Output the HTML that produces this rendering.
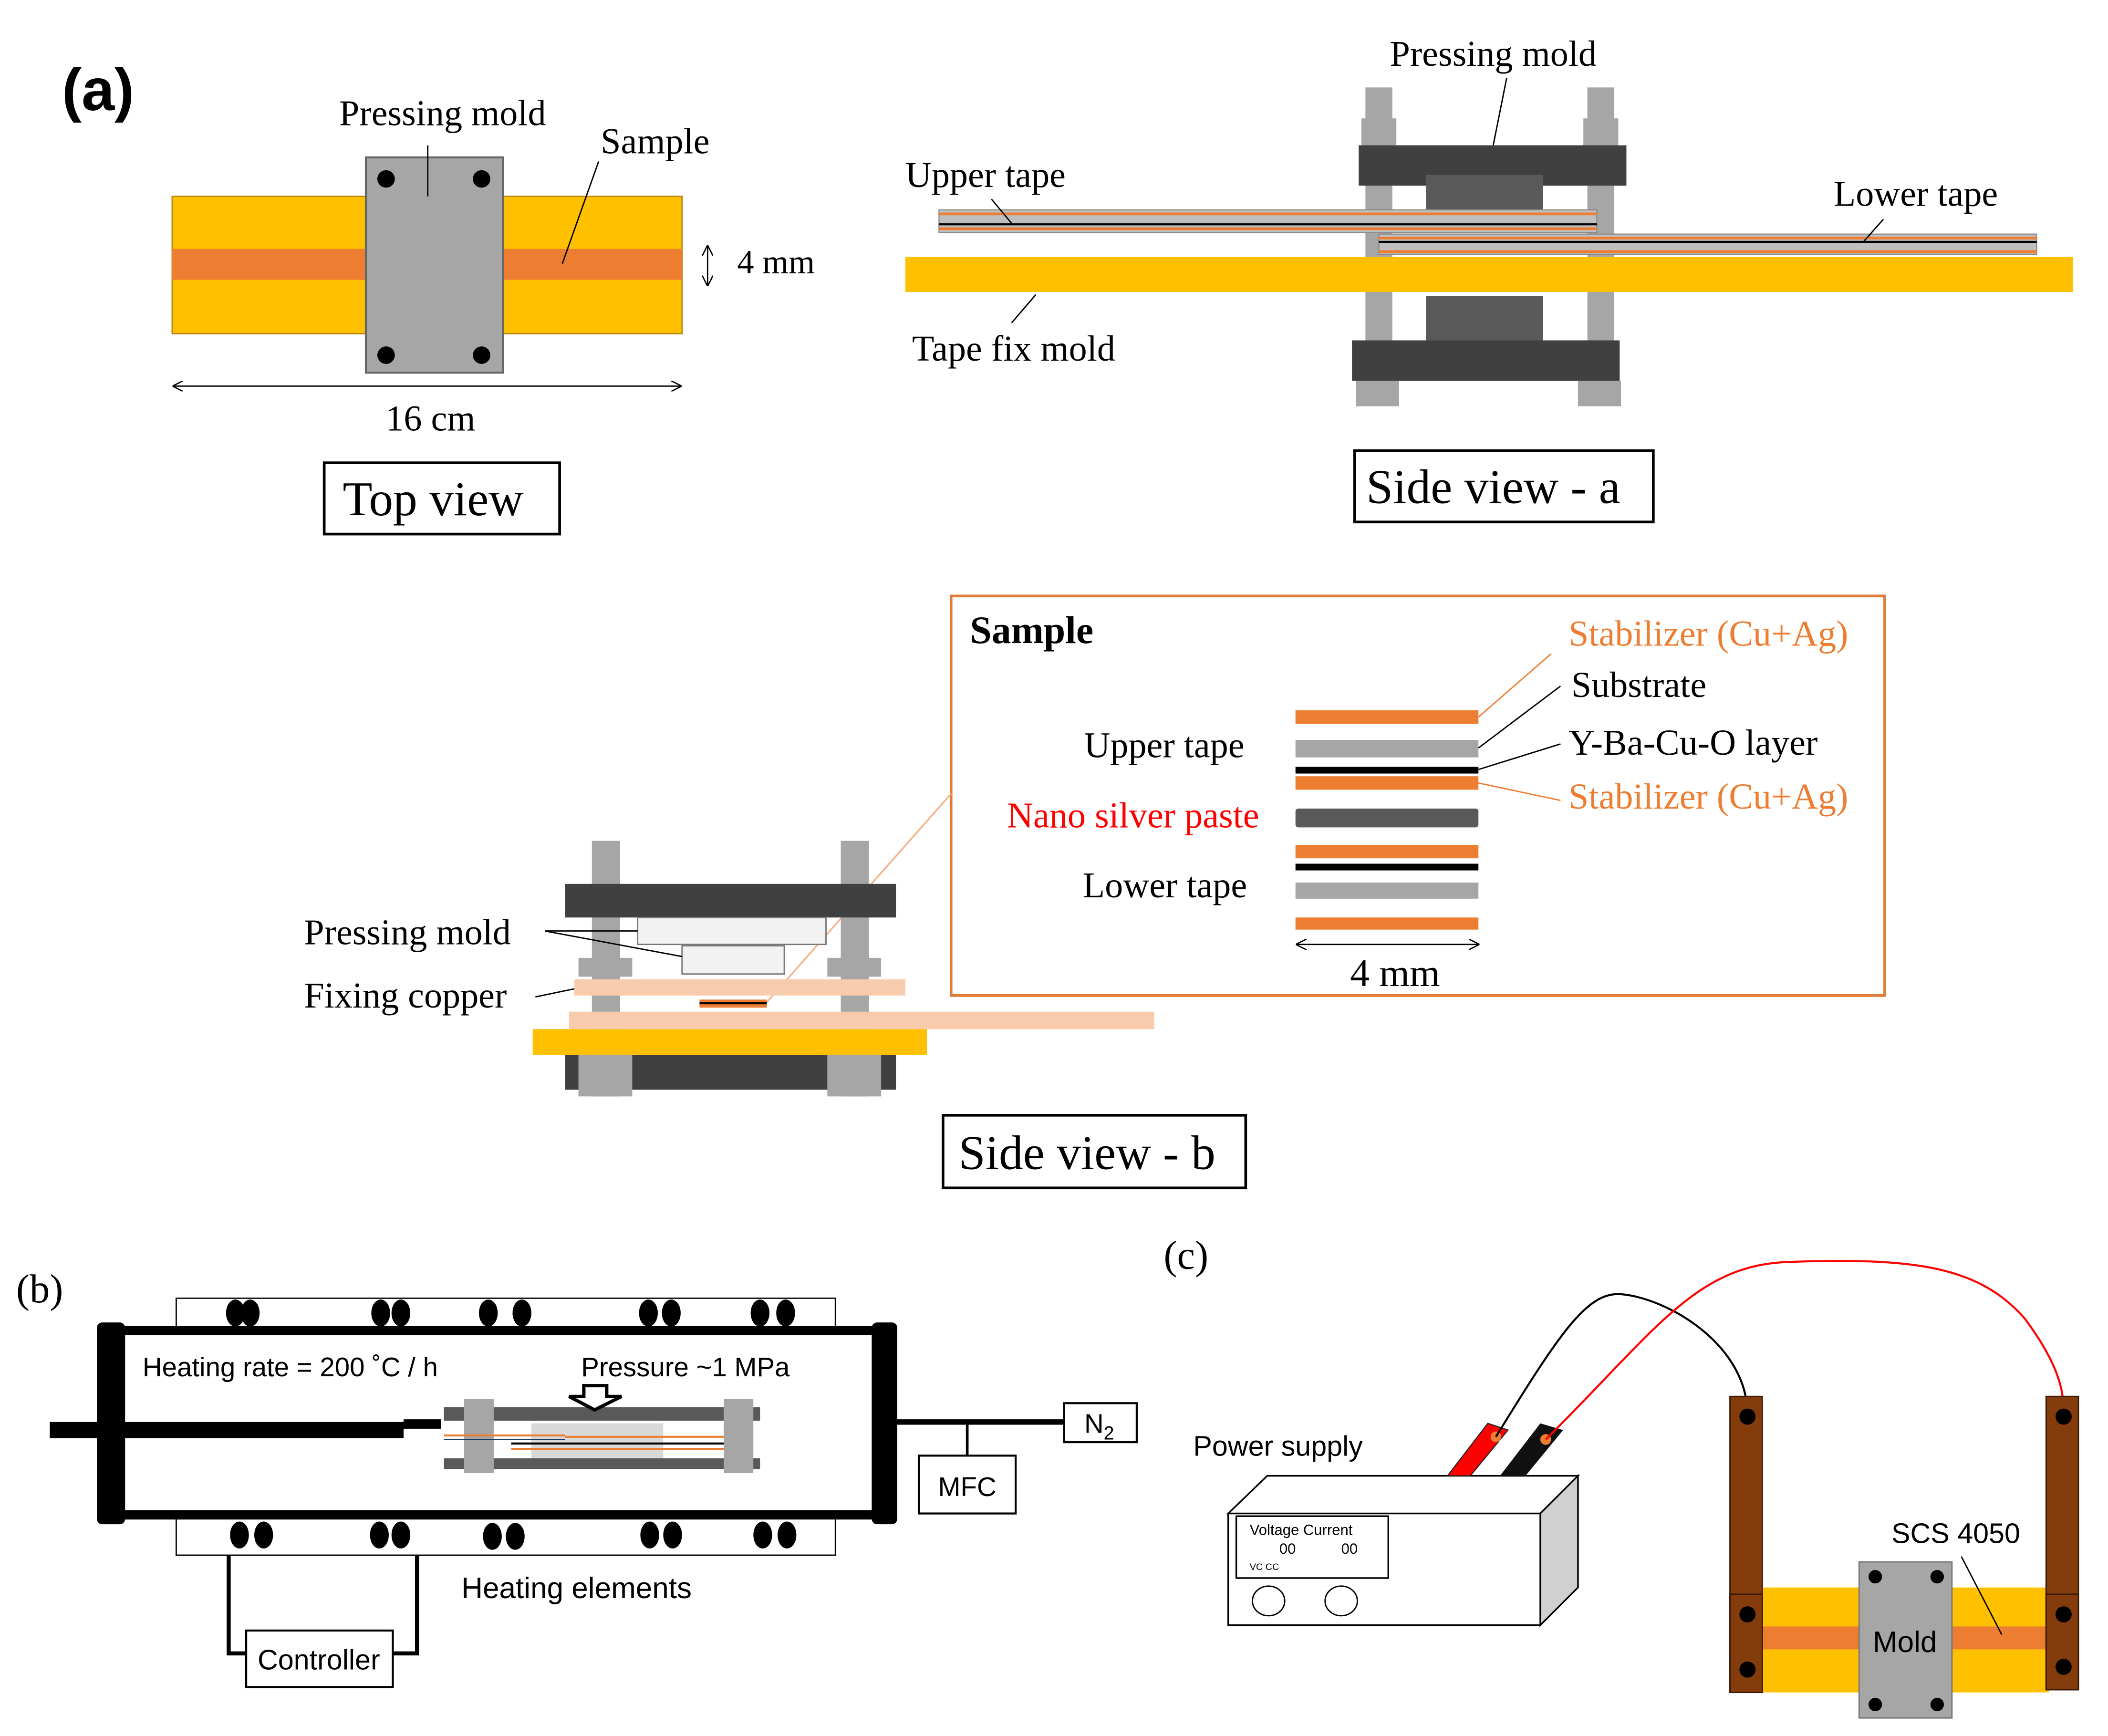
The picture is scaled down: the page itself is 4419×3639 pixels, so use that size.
<!DOCTYPE html>
<html><head><meta charset="utf-8"><style>html,body{margin:0;padding:0;background:#fff}svg{display:block}</style></head><body>
<svg width="4419" height="3639" viewBox="0 0 1567 1290.4" preserveAspectRatio="none" xmlns="http://www.w3.org/2000/svg">
<defs>
<marker id="ah" viewBox="0 0 10 10" refX="9" refY="5" markerWidth="8" markerHeight="8" orient="auto-start-reverse"><path d="M0,0 L10,5 L0,10" fill="none" stroke="#000" stroke-width="1.2"/></marker>
</defs>
<rect width="1567" height="1291" fill="#fff"/>
<g font-family="Liberation Serif, serif" fill="#000">
<text x="46" y="82" font-family="Liberation Sans, sans-serif" font-weight="bold" font-size="44">(a)</text>
<rect x="128" y="146" width="379" height="102" fill="#ffc000" stroke="#b8860b" stroke-width="1"/>
<rect x="128" y="185" width="379" height="23" fill="#ed7d31"/>
<rect x="272" y="117" width="102" height="160" fill="#a6a6a6" stroke="#666" stroke-width="1.5"/>
<circle cx="287" cy="133" r="6.5"/><circle cx="358" cy="133" r="6.5"/><circle cx="287" cy="264" r="6.5"/><circle cx="358" cy="264" r="6.5"/>
<text x="329" y="93" font-size="27" text-anchor="middle">Pressing mold</text>
<line x1="318" y1="108" x2="318" y2="146" stroke="#000"/>
<text x="487" y="114" font-size="27" text-anchor="middle">Sample</text>
<line x1="445" y1="120" x2="418" y2="196" stroke="#000"/>
<line x1="526" y1="183" x2="526" y2="212" stroke="#000" marker-start="url(#ah)" marker-end="url(#ah)"/>
<text x="548" y="203" font-size="25">4 mm</text>
<line x1="129" y1="287" x2="506" y2="287" stroke="#000" marker-start="url(#ah)" marker-end="url(#ah)"/>
<text x="320" y="320" font-size="27" text-anchor="middle">16 cm</text>
<rect x="241" y="344" width="175" height="53" fill="none" stroke="#000" stroke-width="2"/>
<text x="322" y="383" font-size="36" text-anchor="middle">Top view</text>
<rect x="1015" y="65" width="20" height="235" fill="#a6a6a6"/>
<rect x="1180" y="65" width="20" height="235" fill="#a6a6a6"/>
<rect x="1012" y="88" width="26" height="20" fill="#a6a6a6"/>
<rect x="1177" y="88" width="26" height="20" fill="#a6a6a6"/>
<rect x="1010" y="108" width="199" height="30" fill="#404040"/>
<rect x="1060" y="130" width="87" height="28" fill="#595959"/>
<rect x="673" y="191" width="868" height="26" fill="#ffc000"/>
<rect x="1060" y="220" width="87" height="33" fill="#595959"/>
<rect x="1005" y="253" width="199" height="30" fill="#404040"/>
<rect x="1008" y="283" width="32" height="19" fill="#a6a6a6"/>
<rect x="1173" y="283" width="32" height="19" fill="#a6a6a6"/>
<g>
<rect x="698" y="156" width="489" height="17" fill="#bfbfbf" stroke="#888" stroke-width="0.8"/>
<rect x="698" y="158" width="489" height="2" fill="#ed7d31"/>
<rect x="698" y="166" width="489" height="1.5" fill="#000"/>
<rect x="698" y="169" width="489" height="2" fill="#ed7d31"/>
<rect x="1025" y="174" width="489" height="15" fill="#bfbfbf" stroke="#888" stroke-width="0.8"/>
<rect x="1025" y="176" width="489" height="2" fill="#ed7d31"/>
<rect x="1025" y="179" width="489" height="1.5" fill="#000"/>
<rect x="1025" y="186" width="489" height="2" fill="#ed7d31"/>
</g>
<text x="1110" y="49" font-size="27" text-anchor="middle">Pressing mold</text>
<line x1="1120" y1="58" x2="1110" y2="108" stroke="#000"/>
<text x="673" y="139" font-size="27">Upper tape</text>
<line x1="737" y1="148" x2="752" y2="166" stroke="#000"/>
<text x="1363" y="153" font-size="27">Lower tape</text>
<line x1="1400" y1="163" x2="1385" y2="180" stroke="#000"/>
<text x="678" y="268" font-size="27">Tape fix mold</text>
<line x1="752" y1="240" x2="770" y2="219" stroke="#000"/>
<rect x="1007" y="335" width="222" height="53" fill="none" stroke="#000" stroke-width="2"/>
<text x="1110" y="374" font-size="36" text-anchor="middle">Side view - a</text>
<rect x="707" y="443" width="694" height="297" fill="none" stroke="#e07b39" stroke-width="2"/>
<text x="721" y="478" font-size="29" font-weight="bold">Sample</text>
<rect x="963" y="528" width="136" height="10" fill="#ed7d31"/>
<rect x="963" y="550" width="136" height="13" fill="#a6a6a6"/>
<rect x="963" y="570" width="136" height="5" fill="#000"/>
<rect x="963" y="577" width="136" height="10" fill="#ed7d31"/>
<rect x="963" y="601" width="136" height="14" fill="#595959" rx="2"/>
<rect x="963" y="628" width="136" height="10" fill="#ed7d31"/>
<rect x="963" y="642" width="136" height="5" fill="#000"/>
<rect x="963" y="656" width="136" height="12" fill="#a6a6a6"/>
<rect x="963" y="682" width="136" height="9" fill="#ed7d31"/>
<line x1="964" y1="702" x2="1099" y2="702" stroke="#000" marker-start="url(#ah)" marker-end="url(#ah)"/>
<text x="1037" y="733" font-size="29" text-anchor="middle">4 mm</text>
<text x="925" y="563" font-size="27" text-anchor="end">Upper tape</text>
<text x="936" y="615" font-size="27" text-anchor="end" fill="#ff0000">Nano silver paste</text>
<text x="927" y="667" font-size="27" text-anchor="end">Lower tape</text>
<text x="1166" y="480" font-size="27" fill="#ed7d31">Stabilizer (Cu+Ag)</text>
<text x="1168" y="518" font-size="27">Substrate</text>
<text x="1166" y="561" font-size="27">Y-Ba-Cu-O layer</text>
<text x="1166" y="601" font-size="27" fill="#ed7d31">Stabilizer (Cu+Ag)</text>
<line x1="1153" y1="486" x2="1099" y2="533" stroke="#ed7d31"/>
<line x1="1160" y1="510" x2="1099" y2="556" stroke="#000"/>
<line x1="1160" y1="553" x2="1099" y2="572" stroke="#000"/>
<line x1="1160" y1="595" x2="1099" y2="582" stroke="#ed7d31"/>
<line x1="570" y1="745" x2="707" y2="590" stroke="#f4b183" stroke-width="1.2"/>
<rect x="440" y="625" width="21" height="190" fill="#a6a6a6"/>
<rect x="625" y="625" width="21" height="190" fill="#a6a6a6"/>
<rect x="420" y="657" width="246" height="25" fill="#404040"/>
<rect x="474" y="682" width="140" height="20" fill="#f2f2f2" stroke="#777" stroke-width="1"/>
<rect x="507" y="703" width="76" height="21" fill="#f2f2f2" stroke="#777" stroke-width="1"/>
<rect x="430" y="712" width="40" height="14" fill="#a6a6a6"/>
<rect x="615" y="712" width="40" height="14" fill="#a6a6a6"/>
<rect x="427" y="728" width="246" height="12" fill="#f8cbad"/>
<rect x="520" y="743" width="50" height="6" fill="#ed7d31"/>
<rect x="520" y="745" width="50" height="1.5" fill="#000"/>
<rect x="423" y="752" width="435" height="13" fill="#f8cbad"/>
<rect x="420" y="784" width="246" height="26" fill="#404040"/>
<rect x="396" y="765" width="293" height="19" fill="#ffc000"/>
<rect x="430" y="784" width="40" height="31" fill="#a6a6a6"/>
<rect x="615" y="784" width="40" height="31" fill="#a6a6a6"/>
<text x="226" y="702" font-size="27">Pressing mold</text>
<line x1="405" y1="692" x2="474" y2="692" stroke="#000"/>
<line x1="405" y1="692" x2="507" y2="711" stroke="#000"/>
<text x="226" y="749" font-size="27">Fixing copper</text>
<line x1="398" y1="741" x2="427" y2="735" stroke="#000"/>
<rect x="701" y="829" width="225" height="54" fill="none" stroke="#000" stroke-width="2"/>
<text x="808" y="869" font-size="36" text-anchor="middle">Side view - b</text>
<text x="12" y="968" font-size="30">(b)</text>
<text x="865" y="943" font-size="30">(c)</text>
</g>
<g font-family="Liberation Sans, sans-serif" fill="#000">
<rect x="131" y="965" width="490" height="23" fill="none" stroke="#000" stroke-width="1"/>
<rect x="131" y="1127" width="490" height="29" fill="none" stroke="#000" stroke-width="1"/>
<g>
<ellipse cx="175" cy="976" rx="7" ry="10"/><ellipse cx="186" cy="976" rx="7" ry="10"/>
<ellipse cx="283" cy="976" rx="7" ry="10"/><ellipse cx="298" cy="976" rx="7" ry="10"/>
<ellipse cx="363" cy="976" rx="7" ry="10"/><ellipse cx="388" cy="976" rx="7" ry="10"/>
<ellipse cx="482" cy="976" rx="7" ry="10"/><ellipse cx="499" cy="976" rx="7" ry="10"/>
<ellipse cx="565" cy="976" rx="7" ry="10"/><ellipse cx="584" cy="976" rx="7" ry="10"/>
<ellipse cx="178" cy="1141" rx="7" ry="10"/><ellipse cx="196" cy="1141" rx="7" ry="10"/>
<ellipse cx="282" cy="1141" rx="7" ry="10"/><ellipse cx="298" cy="1141" rx="7" ry="10"/>
<ellipse cx="366" cy="1142" rx="7" ry="10"/><ellipse cx="383" cy="1142" rx="7" ry="10"/>
<ellipse cx="483" cy="1141" rx="7" ry="10"/><ellipse cx="500" cy="1141" rx="7" ry="10"/>
<ellipse cx="567" cy="1141" rx="7" ry="10"/><ellipse cx="585" cy="1141" rx="7" ry="10"/>
</g>
<rect x="80" y="989" width="580" height="137" fill="none" stroke="#000" stroke-width="7"/>
<rect x="72" y="983" width="21" height="150" rx="4"/>
<rect x="648" y="983" width="19" height="150" rx="4"/>
<rect x="37" y="1057" width="263" height="12"/>
<rect x="300" y="1055" width="28" height="7"/>
<line x1="666" y1="1057" x2="791" y2="1057" stroke="#000" stroke-width="4"/>
<line x1="719" y1="1057" x2="719" y2="1082" stroke="#000" stroke-width="2"/>
<rect x="683" y="1082" width="72" height="43" fill="#fff" stroke="#000" stroke-width="1.5"/>
<text x="719" y="1112" font-size="20" text-anchor="middle">MFC</text>
<rect x="791" y="1043" width="54" height="29" fill="#fff" stroke="#000" stroke-width="1.5"/>
<text x="806" y="1065" font-size="20">N<tspan font-size="14" dy="5">2</tspan></text>
<rect x="395" y="1058" width="98" height="26" fill="#d9d9d9"/>
<rect x="330" y="1046" width="235" height="10" fill="#595959"/>
<rect x="330" y="1084" width="235" height="8" fill="#595959"/>
<rect x="345" y="1040" width="22" height="55" fill="#a6a6a6"/>
<rect x="538" y="1040" width="22" height="55" fill="#a6a6a6"/>
<line x1="330" y1="1067" x2="420" y2="1067" stroke="#ed7d31" stroke-width="1.5"/>
<line x1="330" y1="1070" x2="420" y2="1070" stroke="#1f3864" stroke-width="1"/>
<line x1="380" y1="1073" x2="538" y2="1073" stroke="#000" stroke-width="1.5"/>
<line x1="420" y1="1068" x2="538" y2="1068" stroke="#ed7d31" stroke-width="1.5"/>
<line x1="380" y1="1077" x2="538" y2="1077" stroke="#ed7d31" stroke-width="1.5"/>
<path d="M434,1030 H451 V1038 H462 L442,1048 L423,1038 H434 Z" fill="#fff" stroke="#000" stroke-width="2.5"/>
<text x="106" y="1023" font-size="20">Heating rate = 200 ˚C / h</text>
<text x="432" y="1023" font-size="20">Pressure ~1 MPa</text>
<text x="343" y="1188" font-size="22">Heating elements</text>
<polyline points="170,1156 170,1229 183,1229" fill="none" stroke="#000" stroke-width="3"/>
<polyline points="310,1156 310,1229 292,1229" fill="none" stroke="#000" stroke-width="3"/>
<rect x="183" y="1212" width="109" height="42" fill="#fff" stroke="#000" stroke-width="1.5"/>
<text x="237" y="1241" font-size="21" text-anchor="middle">Controller</text>
<polygon points="913,1125 942,1097 1173,1097 1145,1125" fill="#fff" stroke="#000" stroke-width="1.2"/>
<polygon points="1145,1125 1173,1097 1173,1180 1145,1208" fill="#d0d0d0" stroke="#000" stroke-width="1.2"/>
<rect x="913" y="1125" width="232" height="83" fill="#fff" stroke="#000" stroke-width="1.2"/>
<rect x="919" y="1127" width="113" height="46" fill="#fff" stroke="#000" stroke-width="1.2"/>
<text x="929" y="1141" font-size="11">Voltage  Current</text>
<text x="951" y="1155" font-size="11">00</text><text x="997" y="1155" font-size="11">00</text>
<text x="929" y="1167" font-size="7">VC  CC</text>
<ellipse cx="943" cy="1190" rx="12" ry="11" fill="#fff" stroke="#000"/>
<ellipse cx="997" cy="1190" rx="12" ry="11" fill="#fff" stroke="#000"/>
<polygon points="1076,1097 1106,1058 1121,1063 1093,1097" fill="#ff0000" stroke="#222" stroke-width="0.8"/>
<polygon points="1115,1097 1145,1058 1162,1063 1134,1097" fill="#111"/>
<circle cx="1112" cy="1068" r="4" fill="#ed7d31"/>
<circle cx="1149" cy="1070" r="4" fill="#ed7d31"/>
<text x="887" y="1082" font-size="21">Power supply</text>
<path d="M1112,1068 C1160,990 1180,960 1205,962 C1240,965 1300,1000 1299,1053" fill="none" stroke="#000" stroke-width="1.5"/>
<path d="M1149,1070 C1230,990 1260,940 1330,938 C1420,935 1470,940 1505,980 C1535,1020 1534,1040 1534,1053" fill="none" stroke="#ff0000" stroke-width="1.5"/>
<rect x="1310" y="1180" width="213" height="78" fill="#ffc000"/>
<rect x="1310" y="1209" width="213" height="17" fill="#ed7d31"/>
<rect x="1286" y="1038" width="24" height="220" fill="#843c0c" stroke="#3a1a05"/>
<rect x="1521" y="1038" width="24" height="218" fill="#843c0c" stroke="#3a1a05"/>
<rect x="1286" y="1185" width="24" height="73" fill="#843c0c" stroke="#3a1a05"/>
<rect x="1521" y="1185" width="24" height="71" fill="#843c0c" stroke="#3a1a05"/>
<circle cx="1299" cy="1053" r="6"/><circle cx="1534" cy="1053" r="6"/>
<circle cx="1299" cy="1200" r="6"/><circle cx="1299" cy="1241" r="6"/>
<circle cx="1534" cy="1200" r="6"/><circle cx="1534" cy="1239" r="6"/>
<rect x="1382" y="1161" width="69" height="116" fill="#a6a6a6" stroke="#777"/>
<circle cx="1394" cy="1172" r="5"/><circle cx="1440" cy="1172" r="5"/>
<circle cx="1394" cy="1267" r="5"/><circle cx="1440" cy="1267" r="5"/>
<text x="1416" y="1228" font-size="22" text-anchor="middle">Mold</text>
<text x="1406" y="1147" font-size="21">SCS 4050</text>
<line x1="1458" y1="1157" x2="1488" y2="1215" stroke="#000"/>
</g>
</svg>
</body></html>
